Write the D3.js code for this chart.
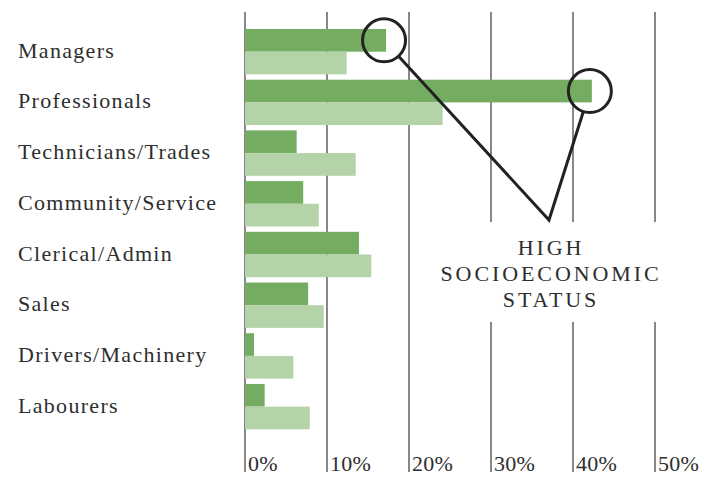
<!DOCTYPE html>
<html>
<head>
<meta charset="utf-8">
<script src="https://cdn.jsdelivr.net/npm/d3@7"></script>
<style>
    body { margin: 0; background: #fff; }
    svg { display: block; }
    text { font-family: 'Liberation Serif', 'Times New Roman', serif; fill: #2e2e2e; }
</style>
</head>
<body>
<svg id="chart" width="704" height="477"></svg>
<script>
// categories, top to bottom
const categories = ['Managers', 'Professionals', 'Technicians/Trades', 'Community/Service',
    'Clerical/Admin', 'Sales', 'Drivers/Machinery', 'Labourers']
// dark bars (high socioeconomic status), % share
const highValues = [17.2, 42.3, 6.3, 7.1, 13.9, 7.7, 1.1, 2.4]
// light bars, % share
const otherValues = [12.4, 24.1, 13.5, 9.0, 15.4, 9.6, 5.9, 7.9]
const ticks = [0, 10, 20, 30, 40, 50]
const calloutLines = ['HIGH', 'SOCIOECONOMIC', 'STATUS']
const calloutFor = ['Managers', 'Professionals']

const colorHigh = '#74ad62'
const colorOther = '#b5d3a9'

const svg = d3.select('#chart')

const x = d3.scaleLinear().domain([0, 50]).range([245, 655])
const y = d3.scaleBand().domain(categories).range([29, 429.3]).paddingInner(0.105).paddingOuter(0)
const sub = d3.scaleBand().domain(['high', 'other']).range([0, y.bandwidth()])

const rows = categories.map((c, i) => ({ cat: c, high: highValues[i], other: otherValues[i] }))

// gridlines
svg.append('g')
    .selectAll('line')
    .data(ticks)
    .enter()
    .append('line')
    .attr('x1', (d) => x(d))
    .attr('x2', (d) => x(d))
    .attr('y1', 12)
    .attr('y2', 472)
    .attr('stroke', '#6a6a6a')
    .attr('stroke-width', 1.6)

// tick labels
svg.append('g')
    .selectAll('text')
    .data(ticks)
    .enter()
    .append('text')
    .attr('x', (d) => x(d) + 3)
    .attr('y', 471)
    .attr('font-size', 22)
    .attr('letter-spacing', 0.3)
    .text((d) => d + '%')

// bars
const rowG = svg.append('g')
    .selectAll('g')
    .data(rows)
    .enter()
    .append('g')
    .attr('transform', (d) => `translate(0,${y(d.cat)})`)

rowG.append('rect')
    .attr('x', x(0))
    .attr('y', sub('high'))
    .attr('width', (d) => x(d.high) - x(0))
    .attr('height', sub.bandwidth())
    .attr('fill', colorHigh)

rowG.append('rect')
    .attr('x', x(0))
    .attr('y', sub('other'))
    .attr('width', (d) => x(d.other) - x(0))
    .attr('height', sub.bandwidth())
    .attr('fill', colorOther)

// category labels
svg.append('g')
    .selectAll('text')
    .data(categories)
    .enter()
    .append('text')
    .attr('x', 18)
    .attr('y', (d) => y(d) + y.bandwidth() / 2 + 6)
    .attr('font-size', 22)
    .attr('letter-spacing', 1.3)
    .text((d) => d)

// callout
const apex = [549, 220]
const r = 21.5

svg.append('rect')
    .attr('x', 440)
    .attr('y', 222)
    .attr('width', 225)
    .attr('height', 100)
    .attr('fill', '#fff')

const circles = calloutFor.map((c) => {
    const i = categories.indexOf(c)
    return { cx: x(highValues[i]) - 2, cy: y(c) + sub('high') + sub.bandwidth() / 2 }
})

svg.append('g')
    .selectAll('circle')
    .data(circles)
    .enter()
    .append('circle')
    .attr('cx', (d) => d.cx)
    .attr('cy', (d) => d.cy)
    .attr('r', r)
    .attr('fill', 'none')
    .attr('stroke', '#222')
    .attr('stroke-width', 3)

const legs = circles.map((d) => {
    const dx = apex[0] - d.cx, dy = apex[1] - d.cy
    const len = Math.sqrt(dx * dx + dy * dy)
    return [d.cx + r * dx / len, d.cy + r * dy / len]
})

svg.append('path')
    .attr('d', d3.line()([legs[0], apex, legs[1]]))
    .attr('fill', 'none')
    .attr('stroke', '#222')
    .attr('stroke-width', 3)
    .attr('stroke-linejoin', 'miter')

svg.append('g')
    .selectAll('text')
    .data(calloutLines)
    .enter()
    .append('text')
    .attr('x', 551)
    .attr('y', (d, i) => 255 + i * 26)
    .attr('text-anchor', 'middle')
    .attr('font-size', 22)
    .attr('letter-spacing', 2.9)
    .text((d) => d)
</script>
</body>
</html>
